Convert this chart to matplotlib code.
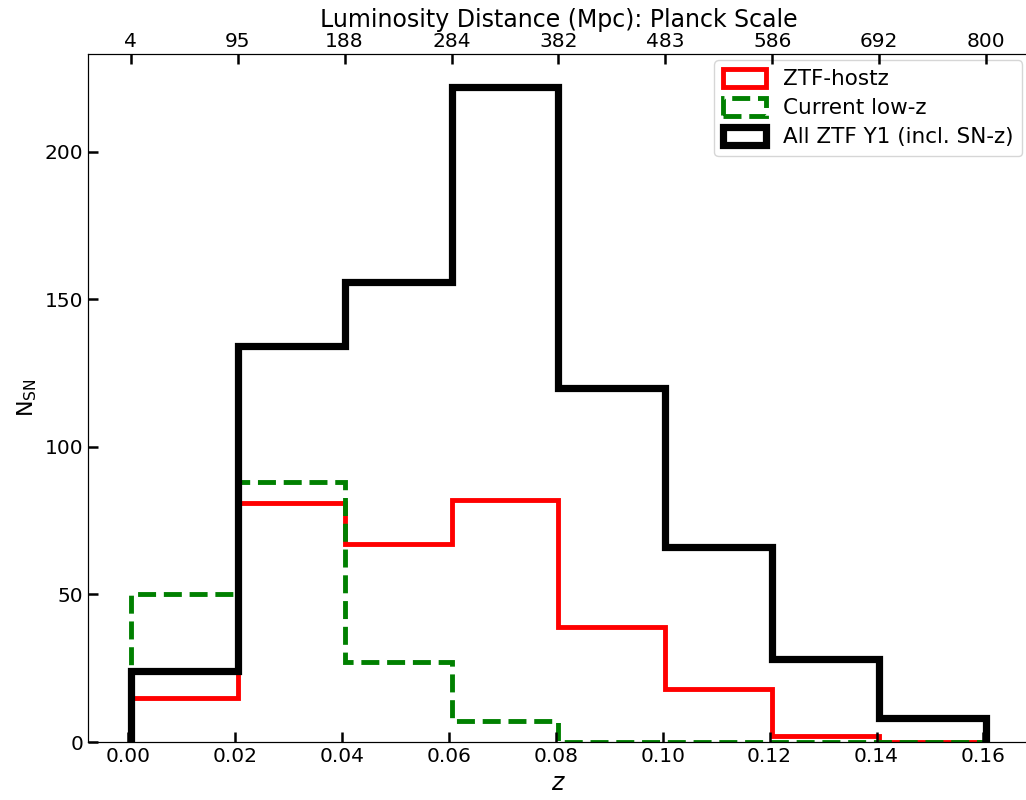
import numpy as np
import matplotlib
matplotlib.use('Agg')
import matplotlib.pyplot as plt
from matplotlib.patches import Patch

# bin edges in redshift (8 bins of 0.02)
z_edges = [0.0005, 0.0205, 0.0405, 0.0605, 0.0805, 0.1005, 0.1205, 0.1405, 0.1605]
dl_labels = ['4', '95', '188', '284', '382', '483', '586', '692', '800']

n_hostz = [15, 81, 67, 82, 39, 18, 2, 0]
n_lowz = [50, 88, 27, 7, 0, 0, 0, 0]
n_all = [24, 134, 156, 222, 120, 66, 28, 8]

fig = plt.figure(figsize=(10.26, 8), dpi=100)
ax = fig.add_axes([0.0858, 0.0725, 0.917, 0.86])

ax.stairs(n_hostz, z_edges, color='red', lw=3.5)
ax.stairs(n_lowz, z_edges, color='green', lw=3.5, ls='--')
ax.stairs(n_all, z_edges, color='black', lw=5.2)

ax.set_xticks(np.arange(0, 0.161, 0.02))
ax.set_yticks([0, 50, 100, 150, 200])
ax.tick_params(direction='in', length=7, width=1.8, labelsize=14.5)
ax.set_xlabel('$z$', fontsize=17)
ax.set_ylabel(r'N$_{\rm SN}$', fontsize=16)

# histogram-style legend boxes
handles = [Patch(fill=False, edgecolor='red', lw=3.5, label='ZTF-hostz'),
           Patch(fill=False, edgecolor='green', lw=3.5, ls='--', label='Current low-z'),
           Patch(fill=False, edgecolor='black', lw=5.2, label='All ZTF Y1 (incl. SN-z)')]
ax.legend(handles=handles, loc='upper right', fontsize=15.5, borderaxespad=0.3,
          handlelength=2.0, handleheight=0.9, labelspacing=0.4)

ax2 = ax.twiny()
ax2.set_xlim(ax.get_xlim())
ax2.set_xticks(z_edges)
ax2.set_xticklabels(dl_labels)
ax2.tick_params(direction='in', length=7, width=1.8, labelsize=14.5, pad=2)
ax2.set_xlabel('Luminosity Distance (Mpc): Planck Scale', fontsize=17, labelpad=4)

fig.savefig('out.png', dpi=100)
